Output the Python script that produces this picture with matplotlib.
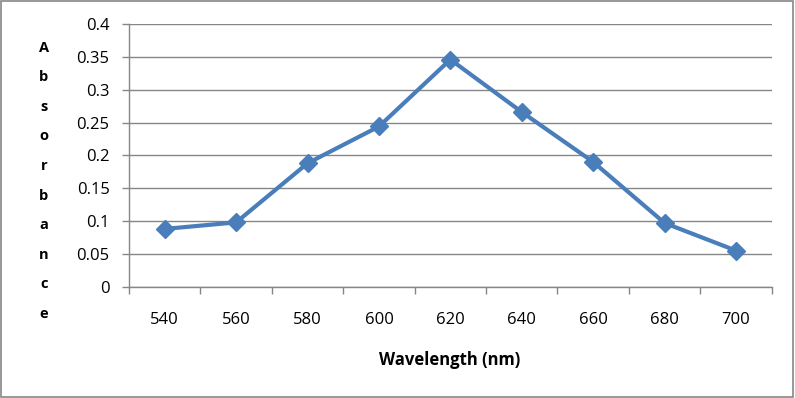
import numpy as np
import matplotlib
matplotlib.use("Agg")
import matplotlib.pyplot as plt
from matplotlib.ticker import FixedLocator, FuncFormatter

wavelength = ["540", "560", "580", "600", "620", "640", "660", "680", "700"]
absorbance = [0.088, 0.098, 0.188, 0.244, 0.346, 0.266, 0.190, 0.097, 0.055]
ylabel = "Absorbance"
xlabel = "Wavelength (nm)"

plt.rcParams['font.family'] = ['Open Sans', 'DejaVu Sans']
grey = "#868686"
blue = "#4a7ebb"

fig = plt.figure(figsize=(7.95, 3.98), dpi=100)
fig.patch.set_facecolor("white")
fig.patches.append(plt.Rectangle((0.001, 0.003), 0.997, 0.994, transform=fig.transFigure,
                                 fill=False, edgecolor=grey, linewidth=1.2))

ax = fig.add_axes([0.1623, 0.2796, 0.8084, 0.660])
x = np.arange(len(wavelength))
ax.plot(x, absorbance, color=blue, linewidth=3, marker="D", markersize=9,
        markerfacecolor=blue, markeredgecolor=blue)

ax.set_xlim(-0.5, len(wavelength) - 0.5)
ax.set_ylim(0, 0.4)
ax.set_yticks(np.arange(0, 0.401, 0.05))
ax.yaxis.set_major_formatter(FuncFormatter(lambda v, p: ("%.2f" % v).rstrip("0").rstrip(".") if v else "0"))
ax.grid(axis="y", color=grey, linewidth=1)
ax.set_axisbelow(True)

ax.set_xticks(x)
ax.set_xticklabels(wavelength)
ax.xaxis.set_minor_locator(FixedLocator(np.arange(-0.5, len(wavelength), 1)))
ax.tick_params(axis="x", which="major", length=0, pad=18, labelsize=12)
ax.tick_params(axis="x", which="minor", length=5, color=grey, width=1)
ax.tick_params(axis="y", length=5, color=grey, width=1, pad=9, labelsize=12)

for s in ["top", "right"]:
    ax.spines[s].set_visible(False)
for s in ["left", "bottom"]:
    ax.spines[s].set_color(grey)
    ax.spines[s].set_linewidth(1)

fig.text(450 / 795, 1 - 365 / 398, xlabel, ha="center", va="baseline", fontsize=12, fontweight="bold")
for i, ch in enumerate(ylabel):
    ypix = 51.7 + i * 29.6
    fig.text(44 / 795, 1 - ypix / 398, ch, ha="center", va="baseline", fontsize=10.5, fontweight="bold")

fig.savefig("out.png", dpi=100)
